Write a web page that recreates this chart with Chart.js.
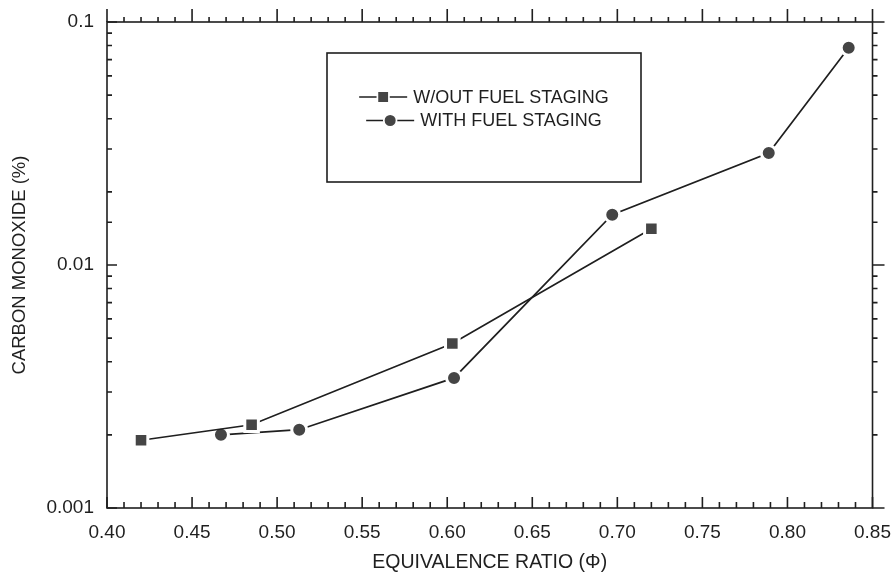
<!DOCTYPE html>
<html>
<head>
<meta charset="utf-8">
<title>Carbon monoxide vs equivalence ratio</title>
<script src="https://cdn.jsdelivr.net/npm/chart.js"></script>
<style>
  html, body { margin: 0; padding: 0; background: #fff; }
  #coChart { display: block; }
</style>
</head>
<body>
<canvas id="coChart" width="896" height="579"></canvas>
<script>
  // W/OUT fuel staging
  const phiNoStaging = [0.420, 0.485, 0.603, 0.720];
  const coNoStaging = [0.0019, 0.0022, 0.00475, 0.0141];

  // WITH fuel staging
  const phiStaging = [0.467, 0.513, 0.604, 0.697, 0.789, 0.836];
  const coStaging = [0.0020, 0.0021, 0.00343, 0.0161, 0.0289, 0.0783];

  const seriesLabels = ['W/OUT FUEL STAGING', 'WITH FUEL STAGING'];
  const xMajorTicks = ['0.40', '0.45', '0.50', '0.55', '0.60', '0.65', '0.70', '0.75', '0.80', '0.85'];
  const yMajorTicks = ['0.001', '0.01', '0.1'];

  const ink = '#1f1f1f';
  const fontFamily = "Arial, 'Liberation Sans', Helvetica, sans-serif";

  function isMajorX(v) {
    return xMajorTicks.includes(v.toFixed(2));
  }
  function isDecade(v) {
    const l = Math.log10(v);
    return Math.abs(l - Math.round(l)) < 1e-6;
  }

  // ticks on all four sides of the frame (bottom/left point inward, top/right outward)
  const frameTicks = {
    id: 'frameTicks',
    afterDatasetsDraw(chart) {
      const { ctx, chartArea: a, scales: { x, y } } = chart;
      ctx.save();
      ctx.strokeStyle = ink;
      ctx.lineWidth = 1.6;
      ctx.strokeRect(a.left, a.top, a.right - a.left, a.bottom - a.top);
      ctx.beginPath();
      x.ticks.forEach(t => {
        const px = x.getPixelForValue(t.value);
        const major = isMajorX(t.value);
        ctx.moveTo(px, a.bottom);
        ctx.lineTo(px, a.bottom - (major ? 11 : 6));
        ctx.moveTo(px, a.top);
        ctx.lineTo(px, a.top - (major ? 13 : 5));
      });
      y.ticks.forEach(t => {
        const py = y.getPixelForValue(t.value);
        const major = isDecade(t.value);
        ctx.moveTo(a.left, py);
        ctx.lineTo(a.left + (major ? 10 : 5), py);
        ctx.moveTo(a.right, py);
        ctx.lineTo(a.right + (major ? 12 : 5), py);
      });
      ctx.stroke();
      ctx.restore();
    }
  };

  // boxed legend inside the plot
  const boxLegend = {
    id: 'boxLegend',
    afterDraw(chart, args, opts) {
      const { ctx } = chart;
      const b = opts.box;
      ctx.save();
      ctx.strokeStyle = ink;
      ctx.lineWidth = 1.6;
      ctx.strokeRect(b.x, b.y, b.w, b.h);
      ctx.font = '18px ' + fontFamily;
      ctx.textBaseline = 'middle';
      chart.data.datasets.forEach((ds, i) => {
        const cy = opts.firstRow + i * opts.rowGap;
        const symW = 48;
        const textW = ctx.measureText(ds.label).width;
        const sx = b.x + (b.w - (symW + 6 + textW)) / 2;
        ctx.strokeStyle = ds.borderColor;
        ctx.lineWidth = ds.borderWidth;
        ctx.beginPath();
        ctx.moveTo(sx, cy);
        ctx.lineTo(sx + symW, cy);
        ctx.stroke();
        ctx.fillStyle = ds.pointBackgroundColor;
        ctx.strokeStyle = ds.pointBorderColor;
        Chart.helpers.drawPoint(ctx, {
          pointStyle: ds.pointStyle,
          radius: ds.pointRadius * 0.85,
          borderWidth: ds.pointBorderWidth,
          rotation: 0
        }, sx + symW / 2, cy);
        ctx.fillStyle = ink;
        ctx.fillText(ds.label, sx + symW + 6, cy + 1);
      });
      ctx.restore();
    }
  };

  const ctx = document.getElementById('coChart').getContext('2d');
  new Chart(ctx, {
    type: 'line',
    data: {
      datasets: [
        {
          label: seriesLabels[0],
          data: phiNoStaging.map((p, i) => ({ x: p, y: coNoStaging[i] })),
          borderColor: ink,
          borderWidth: 1.7,
          pointStyle: 'rect',
          pointRadius: 9.6,
          pointBackgroundColor: '#454545',
          pointBorderColor: '#ffffff',
          pointBorderWidth: 3,
          tension: 0
        },
        {
          label: seriesLabels[1],
          data: phiStaging.map((p, i) => ({ x: p, y: coStaging[i] })),
          borderColor: ink,
          borderWidth: 1.7,
          pointStyle: 'circle',
          pointRadius: 7.5,
          pointBackgroundColor: '#454545',
          pointBorderColor: '#ffffff',
          pointBorderWidth: 3,
          tension: 0
        }
      ]
    },
    options: {
      responsive: false,
      animation: false,
      layout: { padding: { top: 22, right: 23, left: 0, bottom: 0 } },
      plugins: {
        legend: { display: false },
        tooltip: { enabled: false },
        boxLegend: {
          box: { x: 327, y: 53, w: 314, h: 129 },
          firstRow: 97,
          rowGap: 23.5
        }
      },
      scales: {
        x: {
          type: 'linear',
          min: 0.40,
          max: 0.85,
          grid: { display: false },
          border: { display: false },
          ticks: {
            stepSize: 0.01,
            autoSkip: false,
            maxRotation: 0,
            padding: 5,
            color: ink,
            font: { family: fontFamily, size: 19 },
            callback: v => isMajorX(v) ? v.toFixed(2) : ''
          },
          title: {
            display: true,
            text: 'EQUIVALENCE RATIO (\u03A6)',
            color: ink,
            font: { family: fontFamily, size: 19.5 },
            padding: { top: 0, bottom: 5 }
          },
          afterFit: s => { s.height = 71; }
        },
        y: {
          type: 'logarithmic',
          min: 0.001,
          max: 0.1,
          grid: { display: false },
          border: { display: false },
          ticks: {
            autoSkip: false,
            padding: 5,
            color: ink,
            font: { family: fontFamily, size: 19 },
            callback: v => isDecade(v) ? yMajorTicks[Math.round(Math.log10(v)) + 3] : ''
          },
          title: {
            display: true,
            text: 'CARBON MONOXIDE (%)',
            color: ink,
            font: { family: fontFamily, size: 18.5 },
            padding: { top: 9, bottom: 0 }
          },
          afterFit: s => { s.width = 107; }
        }
      }
    },
    plugins: [frameTicks, boxLegend]
  });
</script>
</body>
</html>
